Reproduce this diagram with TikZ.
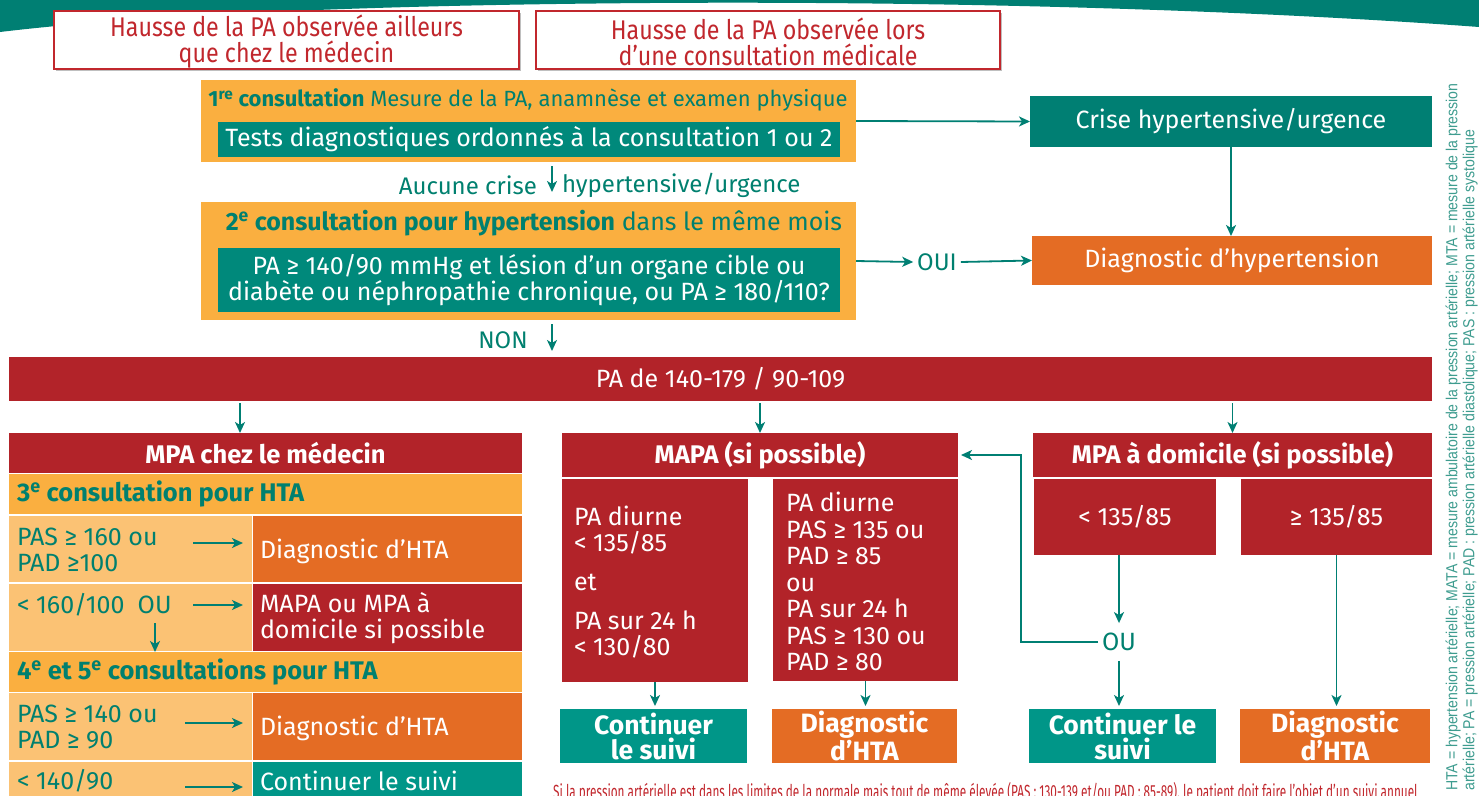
\documentclass[tikz,border=0pt]{standalone}
\usepackage{fontspec}
\setmainfont{Fira Sans}
\newfontfamily\condf[FakeStretch=0.86]{Fira Sans}
\newfontfamily\footf[FakeStretch=0.62]{Fira Sans}
\newfontfamily\narrowf[FakeStretch=0.88]{Liberation Sans}
\usetikzlibrary{arrows.meta}
\definecolor{tealA}{HTML}{007F73}
\definecolor{tealB}{HTML}{00897B}
\definecolor{tealC}{HTML}{009688}
\definecolor{tealT}{HTML}{00806F}
\definecolor{orA}{HTML}{FAAF40}
\definecolor{orL}{HTML}{FBC274}
\definecolor{orD}{HTML}{E46C24}
\definecolor{redA}{HTML}{B22329}
\definecolor{redT}{HTML}{C1272D}
\definecolor{noteT}{HTML}{3E9C8F}
\newcommand\mainfs{\fontsize{25}{26}\selectfont}
\newcommand\labfs{\fontsize{24}{26}\selectfont}
\newcommand\boldfs{\fontsize{25.5}{26}\selectfont\bfseries}
\newcommand\bigbfs{\fontsize{26.5}{25}\selectfont\bfseries}
\newcommand\condfs{\condf\fontsize{27}{26}\selectfont}
\tikzset{
  bx/.style={inner sep=0pt, outer sep=0pt, anchor=north west, align=center, text=white, font=\mainfs},
  bbx/.style={bx, font=\boldfs},
  endbox/.style={bx, font=\bigbfs, minimum height=54pt},
  arr/.style={draw=tealA, line width=1.8pt, -{Stealth[length=11pt,width=10pt,inset=3pt]}},
  tt/.style={text=tealT, font=\labfs, inner sep=0pt, outer sep=0pt},
  wt/.style={text=white, font=\mainfs, inner sep=0pt, outer sep=0pt, align=left, anchor=west},
  lt/.style={tt, font=\mainfs, align=left, anchor=west},
  topbox/.style={bx, draw=redT, line width=1.2pt, fill=white},
  toptext/.style={inner sep=0pt, align=center, text=redT, font=\condfs},
  sidenote/.style={text=noteT, inner sep=0pt, rotate=90, anchor=west, font=\narrowf\fontsize{16}{17}\selectfont}
}
\begin{document}
\begin{tikzpicture}[x=1pt,y=-1pt]
\useasboundingbox (0,0) rectangle (1479,795);
% banner
\fill[tealA] (0,0) -- (1479,0) -- (1479,27) .. controls (1250,10) and (950,1) .. (650,3)
  .. controls (380,5) and (150,14) .. (0,32) -- cycle;
% top boxes
\fill[black!25] (55.5,12.5) rectangle (520.5,70.5);
\fill[black!25] (537.5,12.5) rectangle (1001.5,70.5);
\node[topbox, minimum width=465pt, minimum height=58pt] (hA) at (54,11) {};
\node[topbox, minimum width=464pt, minimum height=58pt] (hB) at (536,11) {};
\node[toptext] (hAt) at (286.5,42) {Hausse de la PA observée ailleurs\\que chez le médecin};
\node[toptext] (hBt) at (768,42) {Hausse de la PA observée lors\\d’une consultation médicale};
% consultation 1
\node[bx, fill=orA, minimum width=655pt, minimum height=82pt] (ob1) at (201,80) {};
\node[tt, font=\fontsize{22}{26}\selectfont] (ob1t) at (528,100) {\textbf{1\textsuperscript{re} consultation} Mesure de la PA, anamnèse et examen physique};
\node[bx, fill=tealB, minimum width=622pt, minimum height=35pt] (tests) at (218,122) {Tests diagnostiques ordonnés à la consultation 1 ou 2};
\node[bx, fill=tealA, minimum width=402pt, minimum height=51pt] (crise) at (1030,96) {Crise hypertensive/urgence};
\node[bx, fill=orD, minimum width=400pt, minimum height=49pt] (diag) at (1032,236) {Diagnostic d’hypertension};
% aucune crise
\node[tt, anchor=east] (auc1) at (537,185) {Aucune crise};
\node[tt, anchor=west] (auc2) at (562,185) {hypertensive/urgence};
\coordinate (ac1) at (552,166);
\coordinate (ac2) at (552,192);
% consultation 2
\node[bx, fill=orA, minimum width=655pt, minimum height=118pt] (ob2) at (201,202) {};
\node[tt, font=\mainfs] (ob2t) at (534,223) {\textbf{2\textsuperscript{e} consultation pour hypertension} dans le même mois};
\node[bx, fill=tealB, minimum width=622pt, minimum height=64pt] (q) at (218,248) {PA ≥ 140/90 mmHg et lésion d’un organe cible ou\\diabète ou néphropathie chronique, ou PA ≥ 180/110?};
\node[tt, inner xsep=4pt] (oui) at (937,262) {OUI};
\node[tt] (non) at (503,340) {NON};
\coordinate (nc1) at (552,324);
\coordinate (nc2) at (552,351);
% bar
\node[bx, fill=redA, minimum width=1423pt, minimum height=44pt] (bar) at (9,357) {PA de 140-179 / 90-109};
\coordinate (m1) at (240,0);
% left column
\node[bbx, fill=redA, minimum width=513pt, minimum height=40pt] (medhdr) at (9,433) {MPA chez le médecin};
\node[bx, fill=orA, minimum width=513pt, minimum height=40pt] (c3) at (9,474) {};
\node[tt, anchor=west, font=\boldfs] (c3t) at (17,494) {3\textsuperscript{e} consultation pour HTA};
\node[bx, fill=orL, minimum width=243pt, minimum height=66pt] (r1l) at (9,516) {};
\node[bx, fill=orD, minimum width=269pt, minimum height=66pt] (r1r) at (253,516) {};
\node[lt] (r1lt) at (17,550) {PAS ≥ 160 ou\\PAD ≥100};
\node[wt] (r1rt) at (260,551) {Diagnostic d’HTA};
\node[bx, fill=orL, minimum width=243pt, minimum height=67pt] (r2l) at (9,584) {};
\node[bx, fill=redA, minimum width=269pt, minimum height=67pt] (r2r) at (253,584) {};
\node[lt] (r2lt) at (17,605) {< 160/100\ \ OU};
\node[wt] (r2rt) at (260,618) {MAPA ou MPA à\\domicile si possible};
\node[bx, fill=orA, minimum width=513pt, minimum height=40pt] (c45) at (9,652) {};
\node[tt, anchor=west, font=\boldfs] (c45t) at (17,672) {4\textsuperscript{e} et 5\textsuperscript{e} consultations pour HTA};
\node[bx, fill=orL, minimum width=243pt, minimum height=67pt] (r3l) at (9,693) {};
\node[bx, fill=orD, minimum width=269pt, minimum height=67pt] (r3r) at (253,693) {};
\node[lt] (r3lt) at (17,727) {PAS ≥ 140 ou\\PAD ≥ 90};
\node[wt] (r3rt) at (260,728) {Diagnostic d’HTA};
\node[bx, fill=orL, minimum width=243pt, minimum height=60pt] (r4l) at (9,762) {};
\node[bx, fill=tealC, minimum width=269pt, minimum height=60pt] (r4r) at (253,762) {};
\node[lt] (r4lt) at (17,781) {< 140/90};
\node[wt] (r4rt) at (260,781) {Continuer le suivi};
\coordinate (la1) at (193,543);
\coordinate (la2) at (193,605);
\coordinate (la3) at (155,623);
\coordinate (la4) at (185,723);
\coordinate (la5) at (185,787);
% middle column
\node[bbx, fill=redA, minimum width=396pt, minimum height=44pt] (mapahdr) at (562,433) {MAPA (si possible)};
\node[bx, fill=redA, minimum width=186pt, minimum height=203pt] (mapaL) at (562,479) {};
\node[bx, fill=redA, minimum width=185pt, minimum height=202pt] (mapaR) at (773,479) {};
\node[wt] (mapaLt) at (574,582) {PA diurne\\< 135/85\\[13pt]et\\[13pt]PA sur 24 h\\< 130/80};
\node[wt, font=\fontsize{25}{26.5}\selectfont] (mapaRt) at (786,581.5) {PA diurne\\PAS ≥ 135 ou\\PAD ≥ 85\\ou\\PA sur 24 h\\PAS ≥ 130 ou\\PAD ≥ 80};
\node[endbox, fill=tealC, minimum width=187pt] (cont1) at (560,709) {Continuer\\le suivi};
\node[endbox, fill=orD, minimum width=185pt] (diag1) at (772,709) {Diagnostic\\d’HTA};
% right column
\node[bbx, fill=redA, minimum width=399pt, minimum height=44pt] (domhdr) at (1033,433) {MPA à domicile (si possible)};
\node[bx, fill=redA, minimum width=182pt, minimum height=76pt] (domL) at (1034,479) {< 135/85};
\node[bx, fill=redA, minimum width=191pt, minimum height=76pt] (domR) at (1241,479) {≥ 135/85};
\node[tt, font=\mainfs, inner xsep=4pt, inner ysep=10pt] (ou) at (1119,642) {OU};
\node[endbox, fill=tealC, minimum width=187pt] (cont2) at (1029,709) {Continuer le\\suivi};
\node[endbox, fill=orD, minimum width=190pt] (diag2) at (1240,709) {Diagnostic\\d’HTA};
% notes
\node[text=redT, inner sep=0pt, anchor=base west, font=\footf\fontsize{19}{20}\selectfont] (foot) at (553,798) {Si la pression artérielle est dans les limites de la normale mais tout de même élevée (PAS : 130-139 et/ou PAD : 85-89), le patient doit faire l’objet d’un suivi annuel};
\node[sidenote] (side1) at (1453,791) {HTA = hypertension artérielle; MATA = mesure ambulatoire de la pression artérielle; MTA = mesure de la pression};
\node[sidenote] (side2) at (1470,791) {artérielle; PA = pression artérielle; PAD : pression artérielle diastolique; PAS : pression artérielle systolique};
% connectors
\draw[arr] (ob1.east) -- (crise.west);
\draw[arr] (crise.south) -- (crise.south |- diag.north);
\draw[arr] (ob2.east) -- (oui.west);
\draw[arr] (oui.east) -- (diag.west);
\draw[arr] (ac1) -- (ac2);
\draw[arr] (nc1) -- (nc2);
\draw[arr, shorten <=2pt] (bar.south -| m1) -- (medhdr.north -| m1);
\draw[arr, shorten <=2pt] (bar.south -| mapahdr.north) -- (mapahdr.north);
\draw[arr, shorten <=2pt] (bar.south -| domhdr.north) -- (domhdr.north);
\draw[arr, shorten >=10pt] (la1) -- (r1r.west |- la1);
\draw[arr, shorten >=10pt] (la2) -- (r2r.west |- la2);
\draw[arr] (la3) -- (la3 |- c45.north);
\draw[arr, shorten >=10pt] (la4) -- (r3r.west |- la4);
\draw[arr, shorten >=10pt] (la5) -- (r4r.west |- la5);
\draw[arr, shorten >=3pt] (mapaL.south) -- (mapaL.south |- cont1.north);
\draw[arr, shorten >=3pt] (mapaR.south) -- (mapaR.south |- diag1.north);
\draw[arr] (domL.south -| ou.north) -- (ou.north);
\draw[arr, shorten >=3pt] (ou.south) -- (ou.south |- cont2.north);
\draw[arr, shorten >=3pt] (domR.south) -- (domR.south |- diag2.north);
\draw[arr, shorten >=3pt] (ou.west) -- ++(-77,0) |- (mapahdr.east);
\end{tikzpicture}
\end{document}
